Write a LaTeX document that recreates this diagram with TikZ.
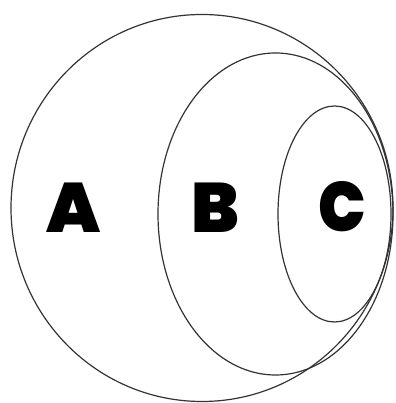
\documentclass[tikz,border=0pt]{standalone}
\usepackage{fontspec}
\newfontfamily\heavyfont{Poppins}[UprightFont=* Black]
\usetikzlibrary{shapes.geometric}

\tikzset{
  set/.style={draw=black!80, line width=1.2pt, ellipse, inner sep=0pt},
  letter/.style={font=\heavyfont\fontsize{70}{70}\selectfont, inner sep=0pt}
}

\begin{document}
\begin{tikzpicture}[x=1pt,y=1pt]
\useasboundingbox (0,0) rectangle (395,403);
% the three nested sets
\node[set, minimum width=382pt, minimum height=387pt] (setA) at (202,195) {};
\node[set, minimum width=235pt, minimum height=322pt] (setB) at (275.5,189) {};
\node[set, minimum width=113pt, minimum height=216pt] (setC) at (334.5,189) {};
% labels
\node[letter] (labA) at (73.5,195) {A};
\node[letter] (labB) at (215.5,195) {B};
\node[letter, xscale=0.9] (labC) at (342.5,196) {C};
\end{tikzpicture}
\end{document}
